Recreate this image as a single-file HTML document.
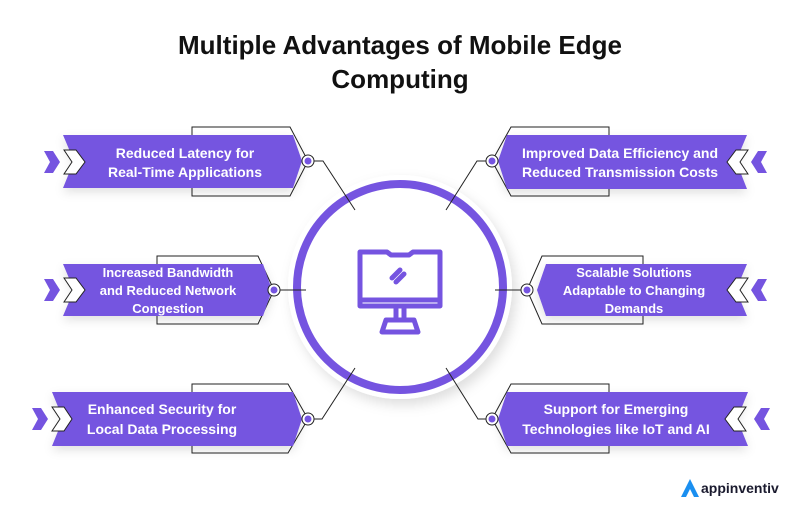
<!DOCTYPE html>
<html><head><meta charset="utf-8"><style>
html,body{margin:0;padding:0;background:#fff;}
svg{display:block;}
text{font-family:"Liberation Sans",sans-serif;}
</style></head><body>
<svg width="801" height="520" viewBox="0 0 801 520" xmlns="http://www.w3.org/2000/svg">
<defs>
<filter id="sh" x="-20%" y="-30%" width="140%" height="160%"><feDropShadow dx="0" dy="4" stdDeviation="5" flood-color="#000" flood-opacity="0.12"/></filter>
<filter id="csh" x="-20%" y="-20%" width="140%" height="140%"><feDropShadow dx="4" dy="6" stdDeviation="6" flood-color="#000" flood-opacity="0.13"/></filter>
</defs>
<text x="400" y="54" text-anchor="middle" font-size="26" font-weight="bold" fill="#111">Multiple Advantages of Mobile Edge</text>
<text x="400" y="88" text-anchor="middle" font-size="26" font-weight="bold" fill="#111">Computing</text>

<circle cx="400" cy="287" r="112" fill="#fff" filter="url(#csh)"/>
<circle cx="400" cy="287" r="103" fill="#fff" stroke="#7554e0" stroke-width="8"/>
<g fill="none" stroke="#7554e0" stroke-width="5" stroke-linejoin="round" stroke-linecap="round">
<path d="M360 252 H387 L391 255 H409 L413 252 H440 V306 H360 Z"/>
<line x1="361" y1="300" x2="439" y2="300"/>
<path d="M396 308 V319 M404 308 V319"/>
<path d="M386 320 H414 L418 332 H382 Z"/>
<line x1="392" y1="278" x2="400" y2="270"/>
<line x1="396" y1="282" x2="404" y2="274"/>
</g>

<g stroke="#222" stroke-width="1" fill="none">
<path d="M192 135 V127 H290 L308 161 L290 196 H192 V188"/>
<path d="M314 161 H323 L355 210"/>
<path d="M157 264 V256 H258 L274 290 L258 324 H157 V316"/>
<path d="M280 290 H306"/>
<path d="M192 392 V384 H288 L308 419 L288 453 H192 V446"/>
<path d="M314 419 H322 L355 368"/>
<path d="M609 135 V127 H511 L492 161 L511 196 H609 V188"/>
<path d="M486 161 H477 L446 210"/>
<path d="M643 264 V256 H542 L527 290 L542 324 H643 V316"/>
<path d="M521 290 H495"/>
<path d="M609 392 V384 H511 L492 419 L511 453 H609 V446"/>
<path d="M486 419 H478 L446 368"/>
</g>

<g fill="#7554e0" filter="url(#sh)">
<polygon points="63,135 293,135 302,161 293,188 63,188 74,161"/>
<polygon points="63,264 263,264 272,290 263,316 63,316 74,290"/>
<polygon points="52,392 293,392 302,419 293,446 52,446 63,419"/>
<polygon points="507,135 747,135 736,161 747,189 507,189 498,161"/>
<polygon points="546,264 747,264 736,290 747,316 546,316 537,290"/>
<polygon points="507,392 748,392 737,419 748,446 507,446 498,419"/>
</g>

<g fill="#7554e0">
<polygon points="44,151 53,151 60,162 53,173 44,173 50,162"/>
<polygon points="44,279 53,279 60,290 53,301 44,301 50,290"/>
<polygon points="32,408 41,408 48,419 41,430 32,430 38,419"/>
<polygon points="767,151 758,151 751,162 758,173 767,173 761,162"/>
<polygon points="767,279 758,279 751,290 758,301 767,301 761,290"/>
<polygon points="770,408 761,408 754,419 761,430 770,430 764,419"/>
</g>
<g fill="#fff" stroke="#222" stroke-width="1">
<polygon points="64,150 76,150 85,162 76,174 64,174 72,162"/>
<polygon points="64,278 76,278 85,290 76,302 64,302 72,290"/>
<polygon points="52,407 64,407 72,419 64,431 52,431 60,419"/>
<polygon points="748,150 736,150 727,162 736,174 748,174 740,162"/>
<polygon points="748,278 736,278 727,290 736,302 748,302 740,290"/>
<polygon points="746,407 734,407 725,419 734,431 746,431 738,419"/>
</g>

<g fill="#fff" stroke="#222" stroke-width="1">
<circle cx="308" cy="161" r="6"/><circle cx="274" cy="290" r="6"/><circle cx="308" cy="419" r="6"/>
<circle cx="492" cy="161" r="6"/><circle cx="527" cy="290" r="6"/><circle cx="492" cy="419" r="6"/>
</g>
<g fill="#7554e0">
<circle cx="308" cy="161" r="3.5"/><circle cx="274" cy="290" r="3.5"/><circle cx="308" cy="419" r="3.5"/>
<circle cx="492" cy="161" r="3.5"/><circle cx="527" cy="290" r="3.5"/><circle cx="492" cy="419" r="3.5"/>
</g>

<g fill="#fff" font-size="14" font-weight="bold" text-anchor="middle">
<text x="185" y="158">Reduced Latency for</text>
<text x="185" y="177">Real-Time Applications</text>
<text x="168" y="277" font-size="13">Increased Bandwidth</text>
<text x="168" y="295" font-size="13">and Reduced Network</text>
<text x="168" y="313" font-size="13">Congestion</text>
<text x="162" y="414">Enhanced Security for</text>
<text x="162" y="434">Local Data Processing</text>
<text x="620" y="158">Improved Data Efficiency and</text>
<text x="620" y="177">Reduced Transmission Costs</text>
<text x="634" y="277" font-size="13">Scalable Solutions</text>
<text x="634" y="295" font-size="13">Adaptable to Changing</text>
<text x="634" y="313" font-size="13">Demands</text>
<text x="616" y="414">Support for Emerging</text>
<text x="616" y="434">Technologies like IoT and AI</text>
</g>

<path d="M681 497 L690 479 L699 497 L694 497 L690 489 L686 497 Z" fill="#1a8ff0"/>
<text x="701" y="493" font-size="14" font-weight="bold" fill="#1a1a2e">appinventiv</text>
</svg>
</body></html>
